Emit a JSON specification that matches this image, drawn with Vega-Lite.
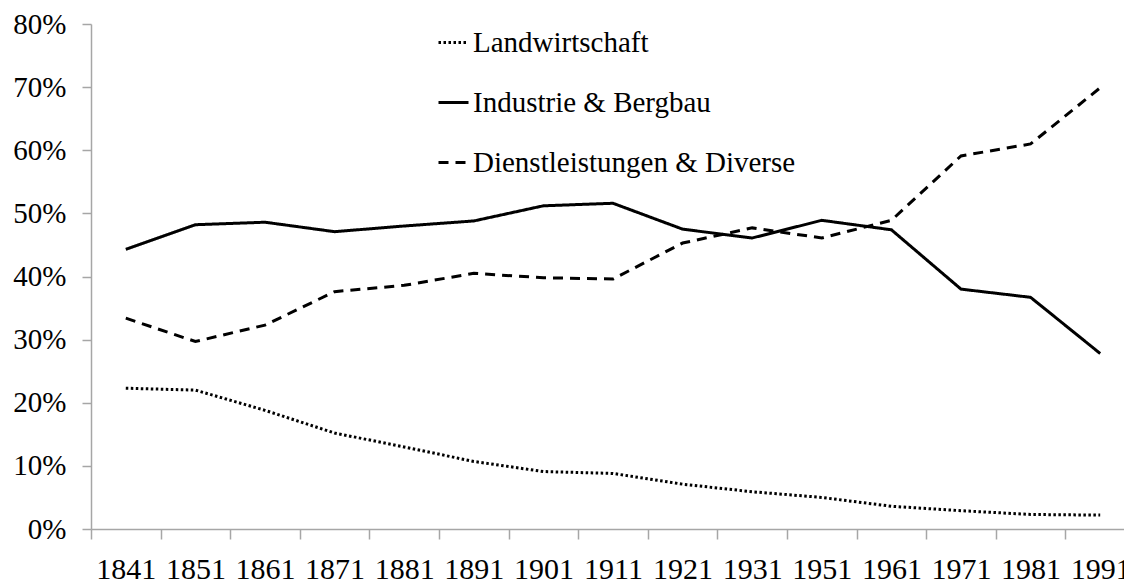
{
  "$schema": "https://vega.github.io/schema/vega-lite/v6.json",
  "autosize": "none",
  "width": 1033,
  "height": 505,
  "padding": {"left": 91, "top": 24, "right": 0, "bottom": 55},
  "background": "white",
  "config": {
    "view": {"stroke": null},
    "font": "Liberation Serif",
    "axis": {"grid": false, "domainColor": "#a6a6a6", "tickColor": "#a6a6a6", "domainWidth": 1.5, "tickWidth": 1.5, "labelFont": "Liberation Serif", "labelColor": "black", "title": null}
  },
  "data": {
    "values": [
      {"year": "1841", "sector": "Landwirtschaft", "share": 22.3},
      {"year": "1851", "sector": "Landwirtschaft", "share": 22.0},
      {"year": "1861", "sector": "Landwirtschaft", "share": 18.8},
      {"year": "1871", "sector": "Landwirtschaft", "share": 15.2},
      {"year": "1881", "sector": "Landwirtschaft", "share": 13.0},
      {"year": "1891", "sector": "Landwirtschaft", "share": 10.7},
      {"year": "1901", "sector": "Landwirtschaft", "share": 9.1},
      {"year": "1911", "sector": "Landwirtschaft", "share": 8.8},
      {"year": "1921", "sector": "Landwirtschaft", "share": 7.1},
      {"year": "1931", "sector": "Landwirtschaft", "share": 5.9},
      {"year": "1951", "sector": "Landwirtschaft", "share": 5.0},
      {"year": "1961", "sector": "Landwirtschaft", "share": 3.6},
      {"year": "1971", "sector": "Landwirtschaft", "share": 2.9},
      {"year": "1981", "sector": "Landwirtschaft", "share": 2.3},
      {"year": "1991", "sector": "Landwirtschaft", "share": 2.2},
      {"year": "1841", "sector": "Industrie & Bergbau", "share": 44.3},
      {"year": "1851", "sector": "Industrie & Bergbau", "share": 48.2},
      {"year": "1861", "sector": "Industrie & Bergbau", "share": 48.6},
      {"year": "1871", "sector": "Industrie & Bergbau", "share": 47.1},
      {"year": "1881", "sector": "Industrie & Bergbau", "share": 48.0},
      {"year": "1891", "sector": "Industrie & Bergbau", "share": 48.8},
      {"year": "1901", "sector": "Industrie & Bergbau", "share": 51.2},
      {"year": "1911", "sector": "Industrie & Bergbau", "share": 51.6},
      {"year": "1921", "sector": "Industrie & Bergbau", "share": 47.5},
      {"year": "1931", "sector": "Industrie & Bergbau", "share": 46.1},
      {"year": "1951", "sector": "Industrie & Bergbau", "share": 48.9},
      {"year": "1961", "sector": "Industrie & Bergbau", "share": 47.4},
      {"year": "1971", "sector": "Industrie & Bergbau", "share": 38.0},
      {"year": "1981", "sector": "Industrie & Bergbau", "share": 36.7},
      {"year": "1991", "sector": "Industrie & Bergbau", "share": 27.8},
      {"year": "1841", "sector": "Dienstleistungen & Diverse", "share": 33.4},
      {"year": "1851", "sector": "Dienstleistungen & Diverse", "share": 29.7},
      {"year": "1861", "sector": "Dienstleistungen & Diverse", "share": 32.3},
      {"year": "1871", "sector": "Dienstleistungen & Diverse", "share": 37.6},
      {"year": "1881", "sector": "Dienstleistungen & Diverse", "share": 38.6},
      {"year": "1891", "sector": "Dienstleistungen & Diverse", "share": 40.5},
      {"year": "1901", "sector": "Dienstleistungen & Diverse", "share": 39.8},
      {"year": "1911", "sector": "Dienstleistungen & Diverse", "share": 39.6},
      {"year": "1921", "sector": "Dienstleistungen & Diverse", "share": 45.3},
      {"year": "1931", "sector": "Dienstleistungen & Diverse", "share": 47.7},
      {"year": "1951", "sector": "Dienstleistungen & Diverse", "share": 46.1},
      {"year": "1961", "sector": "Dienstleistungen & Diverse", "share": 48.9},
      {"year": "1971", "sector": "Dienstleistungen & Diverse", "share": 59.1},
      {"year": "1981", "sector": "Dienstleistungen & Diverse", "share": 61.0},
      {"year": "1991", "sector": "Dienstleistungen & Diverse", "share": 69.9}
    ]
  },
  "mark": {"type": "line", "strokeWidth": 3, "strokeCap": "butt"},
  "encoding": {
    "x": {
      "field": "year", "type": "ordinal", "bandPosition": 0.5,
      "scale": {"type": "band", "range": [0, 1044], "paddingInner": 0, "paddingOuter": 0},
      "axis": {"tickBand": "extent", "labelAngle": 0, "tickSize": 10, "labelPadding": 15, "labelFontSize": 30}
    },
    "y": {
      "field": "share", "type": "quantitative",
      "scale": {"domain": [0, 80], "nice": false, "zero": true},
      "axis": {"values": [0, 10, 20, 30, 40, 50, 60, 70, 80], "labelExpr": "datum.value + '%'", "tickSize": 9, "labelPadding": 16, "labelFontSize": 29}
    },
    "color": {
      "field": "sector", "type": "nominal",
      "sort": ["Landwirtschaft", "Industrie & Bergbau", "Dienstleistungen & Diverse"],
      "scale": {"domain": ["Landwirtschaft", "Industrie & Bergbau", "Dienstleistungen & Diverse"], "range": ["black", "black", "black"]},
      "legend": {"title": null, "orient": "none", "legendX": 346, "legendY": 2, "symbolType": "stroke", "symbolSize": 900, "symbolStrokeWidth": 3, "labelFont": "Liberation Serif", "labelFontSize": 29, "labelColor": "black", "rowPadding": 28, "labelOffset": 3, "labelLimit": 600}
    },
    "strokeDash": {
      "field": "sector", "type": "nominal",
      "sort": ["Landwirtschaft", "Industrie & Bergbau", "Dienstleistungen & Diverse"],
      "scale": {"domain": ["Landwirtschaft", "Industrie & Bergbau", "Dienstleistungen & Diverse"], "range": [[2.5, 2.5], [1, 0], [10, 7]]},
      "legend": {"title": null, "orient": "none", "legendX": 346, "legendY": 2, "symbolType": "stroke", "symbolSize": 900, "symbolStrokeWidth": 3, "labelFont": "Liberation Serif", "labelFontSize": 29, "labelColor": "black", "rowPadding": 28, "labelOffset": 3, "labelLimit": 600}
    }
  }
}
